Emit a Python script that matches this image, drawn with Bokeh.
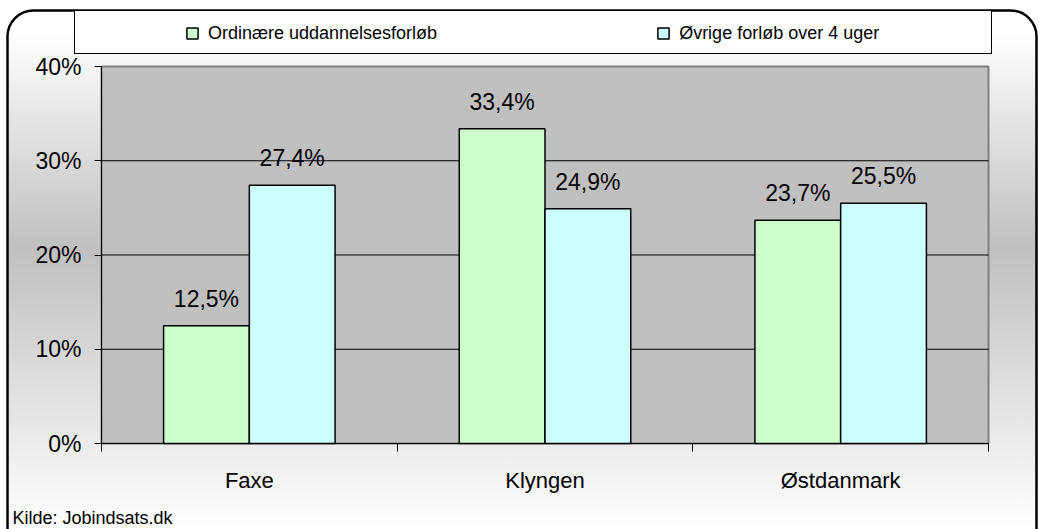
import numpy as np
from bokeh.plotting import figure
from bokeh.models import (Range1d, FixedTicker, Legend, LegendItem, Label,
                          ColumnDataSource, BoxAnnotation)
from bokeh.embed import file_html
from bokeh.resources import INLINE
from bokeh.core.properties import value

# ---- data ----
categories = ["Faxe", "Klyngen", "Østdanmark"]
series_names = ["Ordinære uddannelsesforløb", "Øvrige forløb over 4 uger"]
ordinaere = [12.5, 33.4, 23.7]
ovrige = [27.4, 24.9, 25.5]
y_ticks = [0, 10, 20, 30, 40]
y_tick_labels = ["0%", "10%", "20%", "30%", "40%"]
source_note = "Kilde: Jobindsats.dk"

FONT = "Liberation Sans"
GREEN = "#ccffcc"
BLUE = "#ccffff"

W, H = 1039, 529
# plot area in canvas pixels
PL, PR, PT, PB = 101, 988, 66, 443

def fmt(v):
    return f"{v:.1f}%".replace(".", ",")

n = len(categories)
ymin, ymax = y_ticks[0], y_ticks[-1]
kx = (PR - PL) / n
ky = (PB - PT) / (ymax - ymin)
x_range = Range1d(-PL / kx, n + (W - PR) / kx)
y_range = Range1d(ymin - (H - PB) / ky, ymax + PT / ky)

centers = np.arange(n) + 0.5
bw = 0.29
src = ColumnDataSource(dict(
    x1=centers - bw / 2, x2=centers + bw / 2,
    a=ordinaere, b=ovrige,
    la=[fmt(v) for v in ordinaere], lb=[fmt(v) for v in ovrige],
))

p = figure(width=W, height=H, x_range=x_range, y_range=y_range,
           output_backend="svg", toolbar_location=None, title=None,
           min_border=0, min_border_left=0, min_border_right=0,
           min_border_top=0, min_border_bottom=0,
           background_fill_color=None, border_fill_color=None,
           outline_line_color=None)

p.styles = {
    "background": ("linear-gradient(to right, #ffffff 0px, #ffffff 7px, rgba(255,255,255,0) 7px), "
                   "linear-gradient(to left, #ffffff 0px, #ffffff 3px, rgba(255,255,255,0) 3px), "
                   "linear-gradient(to bottom, #ffffff 6%, #c0c0c0 47%, #ffffff 100%)"),
}

# rounded outer frame
p.add_layout(BoxAnnotation(left=7, right=1036, top=H - 10, bottom=-30,
                           left_units="screen", right_units="screen",
                           top_units="screen", bottom_units="screen",
                           fill_color=None, fill_alpha=0,
                           line_color="black", line_alpha=1, line_width=2.5,
                           border_radius=26))

# plot area
p.add_layout(BoxAnnotation(left=0, right=n, bottom=ymin, top=ymax,
                           fill_color="#c0c0c0", fill_alpha=1,
                           line_color="#808080", line_alpha=1, line_width=2,
                           level="underlay"))

p.xgrid.visible = False
p.ygrid.visible = False
grid_y = y_ticks[1:-1]
p.segment(x0=[0] * len(grid_y), x1=[n] * len(grid_y), y0=grid_y, y1=grid_y,
          line_color="black", line_width=1)

r1 = p.vbar(x="x1", top="a", width=bw, source=src, fill_color=GREEN,
            line_color="black", line_width=1.5)
r2 = p.vbar(x="x2", top="b", width=bw, source=src, fill_color=BLUE,
            line_color="black", line_width=1.5)

for xcol, ycol, lcol in (("x1", "a", "la"), ("x2", "b", "lb")):
    p.text(x=xcol, y=ycol, text=lcol, source=src, text_align="center",
           text_baseline="alphabetic", y_offset=-27,
           text_font=value(FONT), text_font_size="23px", text_color="black")

# y axis
ya = p.yaxis[0]
ya.fixed_location = 0
ya.bounds = (ymin, ymax)
ya.ticker = FixedTicker(ticks=y_ticks)
ya.major_label_overrides = {t: l for t, l in zip(y_ticks, y_tick_labels)}
ya.major_tick_out = 7
ya.major_tick_in = 0
ya.minor_tick_line_color = None
ya.axis_line_color = "black"
ya.major_tick_line_color = "black"
ya.major_label_standoff = 13
ya.major_label_text_font = FONT
ya.major_label_text_font_size = "23px"
ya.major_label_text_color = "black"

# x axis
xa = p.xaxis[0]
xa.fixed_location = 0
xa.bounds = (0, n)
xa.ticker = FixedTicker(ticks=list(centers), minor_ticks=list(range(n + 1)))
xa.major_label_overrides = {float(c): name for c, name in zip(centers, categories)}
xa.major_tick_out = 0
xa.major_tick_in = 0
xa.minor_tick_out = 8
xa.minor_tick_in = 0
xa.minor_tick_line_color = "black"
xa.axis_line_color = "black"
xa.major_label_standoff = 16
xa.major_label_text_font = FONT
xa.major_label_text_font_size = "22px"
xa.major_label_text_color = "black"

# legend background box
dummy = p.scatter([], [], alpha=0)
box = Legend(items=[LegendItem(label=" ", renderers=[dummy])],
             location=(74, H - 54), orientation="horizontal",
             padding=0, spacing=0, glyph_width=1, glyph_height=42,
             label_width=915, label_height=42, label_standoff=0,
             border_line_color="black", border_line_alpha=1, border_line_width=1,
             background_fill_color="white", background_fill_alpha=1,
             label_text_font_size="1px", margin=0)
p.add_layout(box)

leg = Legend(items=[LegendItem(label=series_names[0], renderers=[r1]),
                    LegendItem(label=series_names[1], renderers=[r2])],
             location=(175, H - 54), orientation="horizontal",
             padding=10, spacing=219, glyph_width=14, glyph_height=14,
             label_standoff=9, label_height=22, margin=0,
             border_line_alpha=0, background_fill_alpha=0,
             label_text_font=FONT, label_text_font_size="18px",
             label_text_color="black")
p.add_layout(leg)

p.add_layout(Label(x=12, y=12, x_units="screen", y_units="screen",
                   text=source_note, text_font=FONT, text_font_size="18px",
                   text_color="black", text_baseline="alphabetic"))

open("out.html", "w").write(file_html(p, INLINE))
